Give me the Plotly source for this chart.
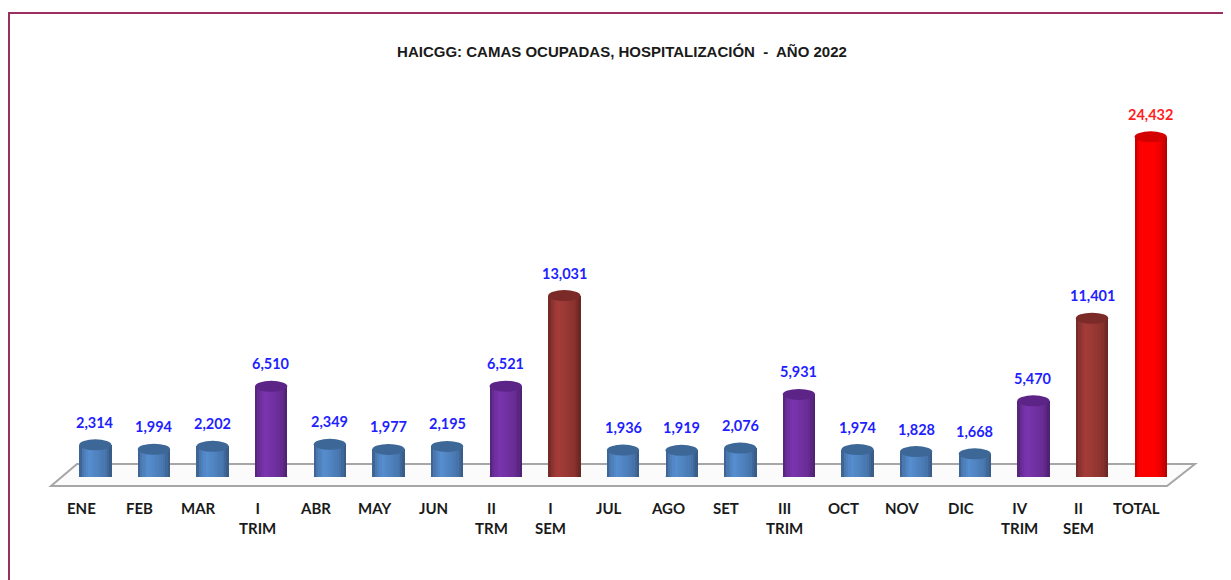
import plotly.graph_objects as go

categories = ["ENE", "FEB", "MAR", "I<br>TRIM", "ABR", "MAY", "JUN", "II<br>TRM", "I<br>SEM",
              "JUL", "AGO", "SET", "III<br>TRIM", "OCT", "NOV", "DIC", "IV<br>TRIM", "II<br>SEM", "TOTAL"]
values = [2314, 1994, 2202, 6510, 2349, 1977, 2195, 6521, 13031,
          1936, 1919, 2076, 5931, 1974, 1828, 1668, 5470, 11401, 24432]
kinds = ["m", "m", "m", "t", "m", "m", "m", "t", "s",
         "m", "m", "m", "t", "m", "m", "m", "t", "s", "total"]

base_colors = {"m": (79, 129, 189), "t": (112, 48, 160), "s": (150, 55, 52), "total": (255, 0, 0)}
top_colors = {"m": "#3d6796", "t": "#5c2486", "s": "#7c2a28", "total": "#d40000"}
label_colors = {"m": "#1f1fff", "t": "#1f1fff", "s": "#1f1fff", "total": "#ff1f1f"}

OFF = 8  # page body margin
W, H = 1231 - OFF, 580 - OFF
L, R, T, B = 66 - OFF, 51, 115 - OFF, 103
YMAX = 26000
BAR_W = 0.55
N = 14


def shade(rgb, f):
    return "rgb(%d,%d,%d)" % tuple(max(0, min(255, int(c * f))) for c in rgb)


PROF = [(0.0, 0.72), (0.12, 0.95), (0.3, 1.1), (0.55, 1.02), (0.8, 0.92), (1.0, 0.68)]


def profile(t):
    for (a, fa), (b, fb) in zip(PROF[:-1], PROF[1:]):
        if a <= t <= b:
            return fa + (fb - fa) * (t - a) / (b - a)
    return 1.0


fig = go.Figure()
xs = list(range(len(categories)))
for i in range(N):
    t = (i + 0.5) / N
    f = profile(t)
    fig.add_trace(go.Bar(
        x=xs, y=values,
        width=BAR_W / N * 1.05,
        offset=-BAR_W / 2 + i * BAR_W / N,
        marker=dict(color=[shade(base_colors[k], f) for k in kinds], line=dict(width=0)),
        hoverinfo="skip", showlegend=False,
    ))


def px2paper_x(px):
    return (px - OFF - L) / (W - L - R)


def px2paper_y(py):
    return (H - B - (py - OFF)) / (H - T - B)


shapes = []
# outer frame
shapes.append(dict(type="rect", xref="paper", yref="paper",
                   x0=px2paper_x(9), x1=px2paper_x(1245), y0=px2paper_y(595), y1=px2paper_y(13),
                   line=dict(color="#9c2f62", width=2), fillcolor="rgba(0,0,0,0)", layer="below"))
# 3D floor
floor = [(51, 486), (77, 464), (1195, 464), (1167, 486)]
path = "M " + " L ".join("%f,%f" % (px2paper_x(a), px2paper_y(b)) for a, b in floor) + " Z"
shapes.append(dict(type="path", xref="paper", yref="paper", path=path,
                   line=dict(color="#a6a6a6", width=2), fillcolor="#fbfbfb", layer="below"))
# bottom and top ellipses of the cylinders
for i, (v, k) in enumerate(zip(values, kinds)):
    shapes.append(dict(type="circle", xref="x", yref="y", ysizemode="pixel", yanchor=0,
                       x0=i - BAR_W / 2, x1=i + BAR_W / 2, y0=-5, y1=5,
                       fillcolor=shade(base_colors[k], 0.9), line=dict(width=0), layer="below"))
    shapes.append(dict(type="circle", xref="x", yref="y", ysizemode="pixel", yanchor=v,
                       x0=i - BAR_W / 2, x1=i + BAR_W / 2, y0=-5.5, y1=5.5,
                       fillcolor=top_colors[k], line=dict(width=0), layer="above"))

annotations = []
for i, (v, k) in enumerate(zip(values, kinds)):
    annotations.append(dict(x=i, y=v, xref="x", yref="y", text="<b>{:,}</b>".format(v),
                            showarrow=False, yanchor="bottom", yshift=12,
                            font=dict(family="Lato, Open Sans, sans-serif", size=14.5,
                                      color=label_colors[k])))
# category labels sit on the front edge of the 3D floor (shifted left by perspective)
for i, c in enumerate(categories):
    annotations.append(dict(x=i, y=0, xref="x", yref="y", text="<b>%s</b>" % c,
                            showarrow=False, yanchor="top", yshift=-20, xshift=-14,
                            align="center",
                            font=dict(family="Lato, Open Sans, sans-serif", size=15,
                                      color="#1a1a1a")))

fig.update_layout(
    width=W, height=H,
    margin=dict(l=L, r=R, t=T, b=B),
    paper_bgcolor="white", plot_bgcolor="rgba(0,0,0,0)",
    barmode="overlay", bargap=0,
    title=dict(text="<b>HAICGG: CAMAS OCUPADAS, HOSPITALIZACIÓN  -  AÑO 2022</b>",
               x=px2paper_x(622), xref="paper", xanchor="center", y=1 - (52 - OFF) / H, yanchor="middle",
               font=dict(family="Liberation Sans Narrow, Arial Narrow, Liberation Sans, sans-serif",
                         size=15, color="#1a1a1a")),
    xaxis=dict(tickmode="array", tickvals=xs, showticklabels=False,
               range=[-0.5, len(categories) - 0.5], showgrid=False, zeroline=False,
               showline=False, ticks=""),
    yaxis=dict(range=[0, YMAX], visible=False, showgrid=False, zeroline=False),
    shapes=shapes, annotations=annotations,
)

fig.write_html("out.html")
